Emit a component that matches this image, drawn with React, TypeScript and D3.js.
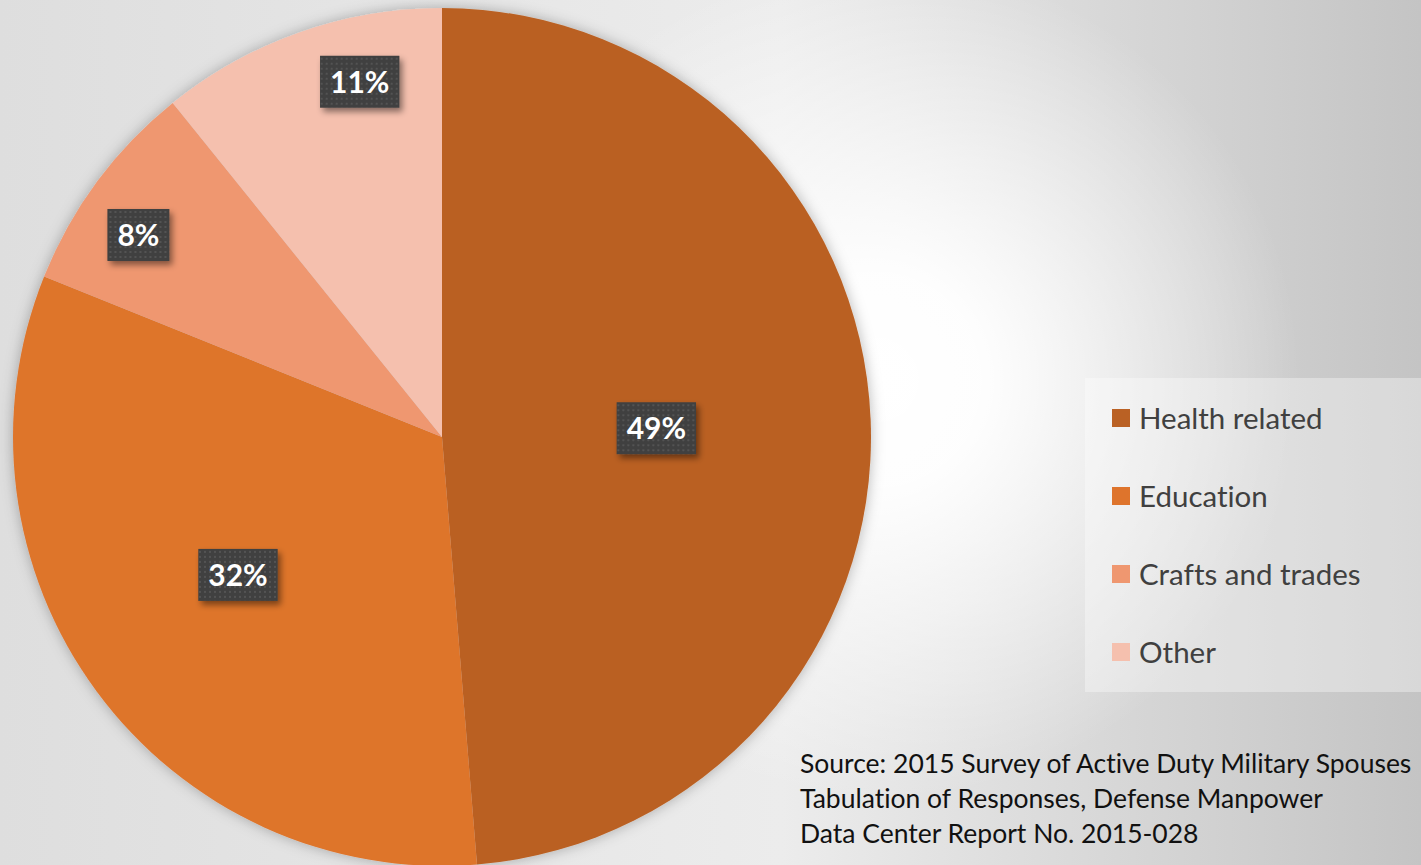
import React, { useRef, useEffect } from 'react';
import * as d3 from 'd3';

// Military spouse occupation fields
const categories = ['Health related', 'Education', 'Crafts and trades', 'Other'];
const values = [48.7, 32.4, 8.1, 10.8];
const colors = ['#BA6124', '#DE742C', '#EF9770', '#F5C0AE'];
// where each label sits: fraction of radius and angle nudge (degrees)
const labelRadius = [0.5, 0.574, 0.85, 0.85];
const labelNudge = [0, 2.3, -2.9, 6.4];
const sourceLines = [
  'Source: 2015 Survey of Active Duty Military Spouses',
  'Tabulation of Responses, Defense Manpower',
  'Data Center Report No. 2015-028',
];

const W = 1421;
const H = 865;

const App: React.FC = () => {
  const svgRef = useRef<SVGSVGElement>(null);

  useEffect(() => {
    document.body.style.margin = '0';
    if (!svgRef.current) return;
    const svg = d3.select(svgRef.current);
    svg.selectAll('*').remove();

    const defs = svg.append('defs');

    // background gradients
    const lin = defs.append('linearGradient').attr('id', 'bgLin')
      .attr('x1', 0).attr('y1', 0).attr('x2', 1).attr('y2', 0);
    lin.append('stop').attr('offset', '0%').attr('stop-color', '#dedede');
    lin.append('stop').attr('offset', '55%').attr('stop-color', '#ececec');
    lin.append('stop').attr('offset', '100%').attr('stop-color', '#c4c4c4');

    const rad = defs.append('radialGradient').attr('id', 'bgRad')
      .attr('gradientUnits', 'userSpaceOnUse')
      .attr('cx', 880).attr('cy', 380).attr('r', 420);
    rad.append('stop').attr('offset', '0%').attr('stop-color', '#fff').attr('stop-opacity', 1);
    rad.append('stop').attr('offset', '25%').attr('stop-color', '#fff').attr('stop-opacity', 0.95);
    rad.append('stop').attr('offset', '100%').attr('stop-color', '#fff').attr('stop-opacity', 0);

    const pieShadow = defs.append('filter').attr('id', 'pieShadow')
      .attr('x', '-10%').attr('y', '-10%').attr('width', '120%').attr('height', '120%');
    pieShadow.append('feDropShadow').attr('dx', 0).attr('dy', 0)
      .attr('stdDeviation', 7).attr('flood-color', '#000').attr('flood-opacity', 0.28);

    const boxShadow = defs.append('filter').attr('id', 'boxShadow')
      .attr('x', '-20%').attr('y', '-20%').attr('width', '150%').attr('height', '150%');
    boxShadow.append('feDropShadow').attr('dx', 3).attr('dy', 4)
      .attr('stdDeviation', 3).attr('flood-color', '#000').attr('flood-opacity', 0.45);

    const pat = defs.append('pattern').attr('id', 'dots')
      .attr('patternUnits', 'userSpaceOnUse').attr('width', 5).attr('height', 5);
    pat.append('rect').attr('width', 5).attr('height', 5).attr('fill', '#404040');
    pat.append('rect').attr('x', 1).attr('y', 1).attr('width', 2).attr('height', 2).attr('fill', '#535353');

    svg.append('rect').attr('width', W).attr('height', H).attr('fill', 'url(#bgLin)');
    svg.append('rect').attr('width', W).attr('height', H).attr('fill', 'url(#bgRad)');

    // pie
    const cx = 442;
    const cy = 437;
    const r = 429;
    const pie = d3.pie<number>().sort(null).value(d => d);
    const arcs = pie(values);
    const arc = d3.arc<d3.PieArcDatum<number>>().innerRadius(0).outerRadius(r);

    const g = svg.append('g').attr('transform', `translate(${cx},${cy})`);
    g.append('g').attr('filter', 'url(#pieShadow)')
      .selectAll('path')
      .data(arcs)
      .enter()
      .append('path')
      .attr('d', arc)
      .attr('fill', (_, i) => colors[i]);

    // data labels
    const total = d3.sum(values);
    arcs.forEach((d, i) => {
      const a = (d.startAngle + d.endAngle) / 2 + (labelNudge[i] * Math.PI) / 180;
      const rr = r * labelRadius[i];
      const x = Math.sin(a) * rr;
      const y = -Math.cos(a) * rr;
      const lg = g.append('g').attr('transform', `translate(${x},${y})`);
      const box = lg.append('rect').attr('fill', 'url(#dots)').attr('filter', 'url(#boxShadow)');
      const t = lg.append('text')
        .attr('text-anchor', 'middle')
        .attr('dy', '0.36em')
        .attr('font-family', 'Lato, sans-serif')
        .attr('font-weight', 700)
        .attr('font-size', 30)
        .attr('fill', '#fff')
        .text(`${Math.round((values[i] / total) * 100)}%`);
      const tw = (t.node() as SVGTextElement).getComputedTextLength();
      const bw = tw + 20;
      const bh = 52;
      box.attr('x', -bw / 2).attr('y', -bh / 2).attr('width', bw).attr('height', bh);
    });

    // legend
    const leg = svg.append('g');
    leg.append('rect').attr('x', 1085).attr('y', 378).attr('width', W - 1085).attr('height', 314)
      .attr('fill', '#fff').attr('fill-opacity', 0.35);
    const rowY = d3.scalePoint<string>().domain(categories).range([418, 652]);
    categories.forEach((c, i) => {
      const y = rowY(c) || 0;
      leg.append('rect').attr('x', 1112).attr('y', y - 9).attr('width', 18).attr('height', 18)
        .attr('fill', colors[i]);
      leg.append('text').attr('x', 1139).attr('y', y).attr('dy', '0.36em')
        .attr('font-family', 'Lato, sans-serif').attr('font-size', 29.5)
        .style('font-variant-ligatures', 'none')
        .attr('fill', '#404040').text(c);
    });

    // source note
    sourceLines.forEach((line, i) => {
      svg.append('text').attr('x', 800).attr('y', 773 + i * 35)
        .attr('font-family', 'Lato, sans-serif').attr('font-size', 26.5)
        .style('font-variant-ligatures', 'none')
        .attr('fill', '#111').text(line);
    });
  }, []);

  return <svg ref={svgRef} width={W} height={H} style={{ display: 'block' }}></svg>;
};

export default App;
